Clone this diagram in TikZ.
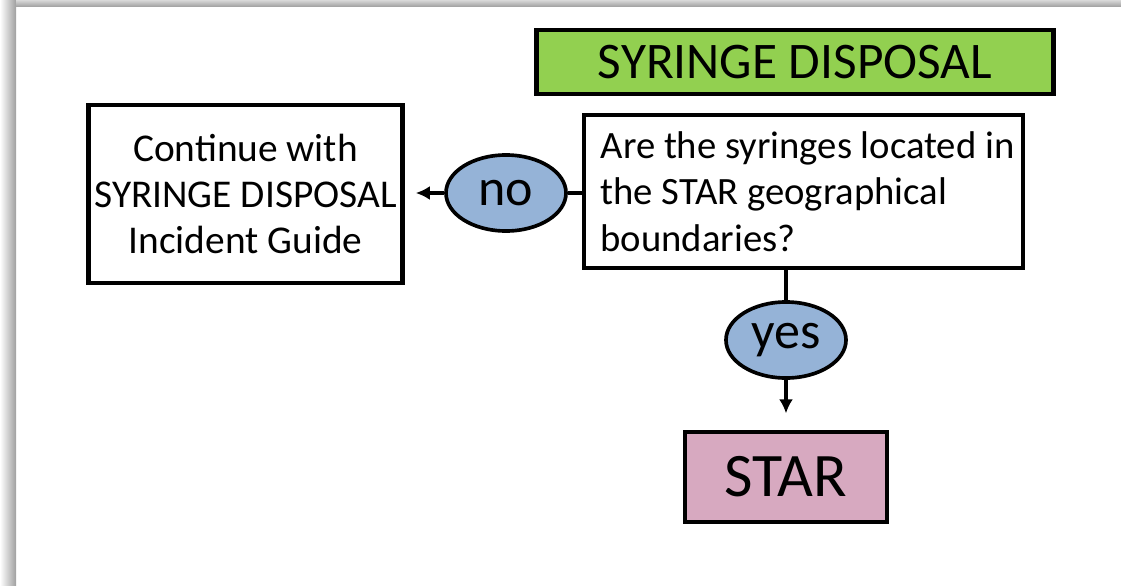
\documentclass[tikz,border=0pt]{standalone}
\usepackage{fontspec}
\setmainfont{Carlito}
\usetikzlibrary{shapes.geometric,arrows.meta}
\definecolor{titlegreen}{HTML}{92D050}
\definecolor{answerblue}{HTML}{95B3D7}
\definecolor{starpink}{HTML}{D7A9C0}
\begin{document}
\begin{tikzpicture}[x=0.025cm,y=-0.025cm,
		box/.style={draw, rectangle, inner sep=0pt, font=\fontsize{28}{33}\selectfont},
		answer/.style={draw, ellipse, line width=2.6pt, fill=answerblue, minimum width=3cm, minimum height=1.9cm, inner sep=0pt, font=\fontsize{37}{40}\selectfont},
		link/.style={line width=2.6pt},
		arr/.style={line width=2.6pt, -{Latex[length=10pt,width=10pt]}}]
	\useasboundingbox (0,0) rectangle (1121,586);
	% shadow frame
	\shade[left color=white, right color=gray!75] (0,0) rectangle (16,586);
	\shade[top color=gray!30, bottom color=gray!70] (16,0) rectangle (1121,6);
	% boxes
	\node[box, line width=3.5pt, fill=titlegreen, minimum width=12.9cm, minimum height=1.6cm,
		font=\fontsize{36.5}{42}\selectfont] (title) at (795,62) {SYRINGE DISPOSAL};
	\node[box, line width=3.5pt, minimum width=7.83cm, minimum height=4.45cm, align=center] (cont) at (245.5,194)
		{Continue with\\SYRINGE DISPOSAL\\Incident Guide};
	\node[box, line width=2.8pt, minimum width=10.98cm, minimum height=3.83cm, align=left,
		font=\fontsize{27.5}{33}\selectfont] (quest) at (803.5,191.5)
		{\hspace*{0.2cm}Are the syringes located in\\\hspace*{0.2cm}the STAR geographical\\\hspace*{0.2cm}boundaries?};
	\node[box, line width=2.6pt, fill=starpink, minimum width=5.05cm, minimum height=2.25cm,
		font=\fontsize{44}{50}\selectfont] (star) at (786,477) {STAR};
	% answers
	\node[answer] (no) at (506,193) {no};
	\node[answer] (yes) at (786,340) {yes};
	% connectors
	\draw[link] (quest.west |- no) -- (no);
	\draw[arr, shorten >=0.28cm] (no) -- (cont.east |- no);
	\draw[link] (quest.south -| yes) -- (yes);
	\draw[arr, shorten >=0.42cm] (yes) -- (star);
\end{tikzpicture}
\end{document}
